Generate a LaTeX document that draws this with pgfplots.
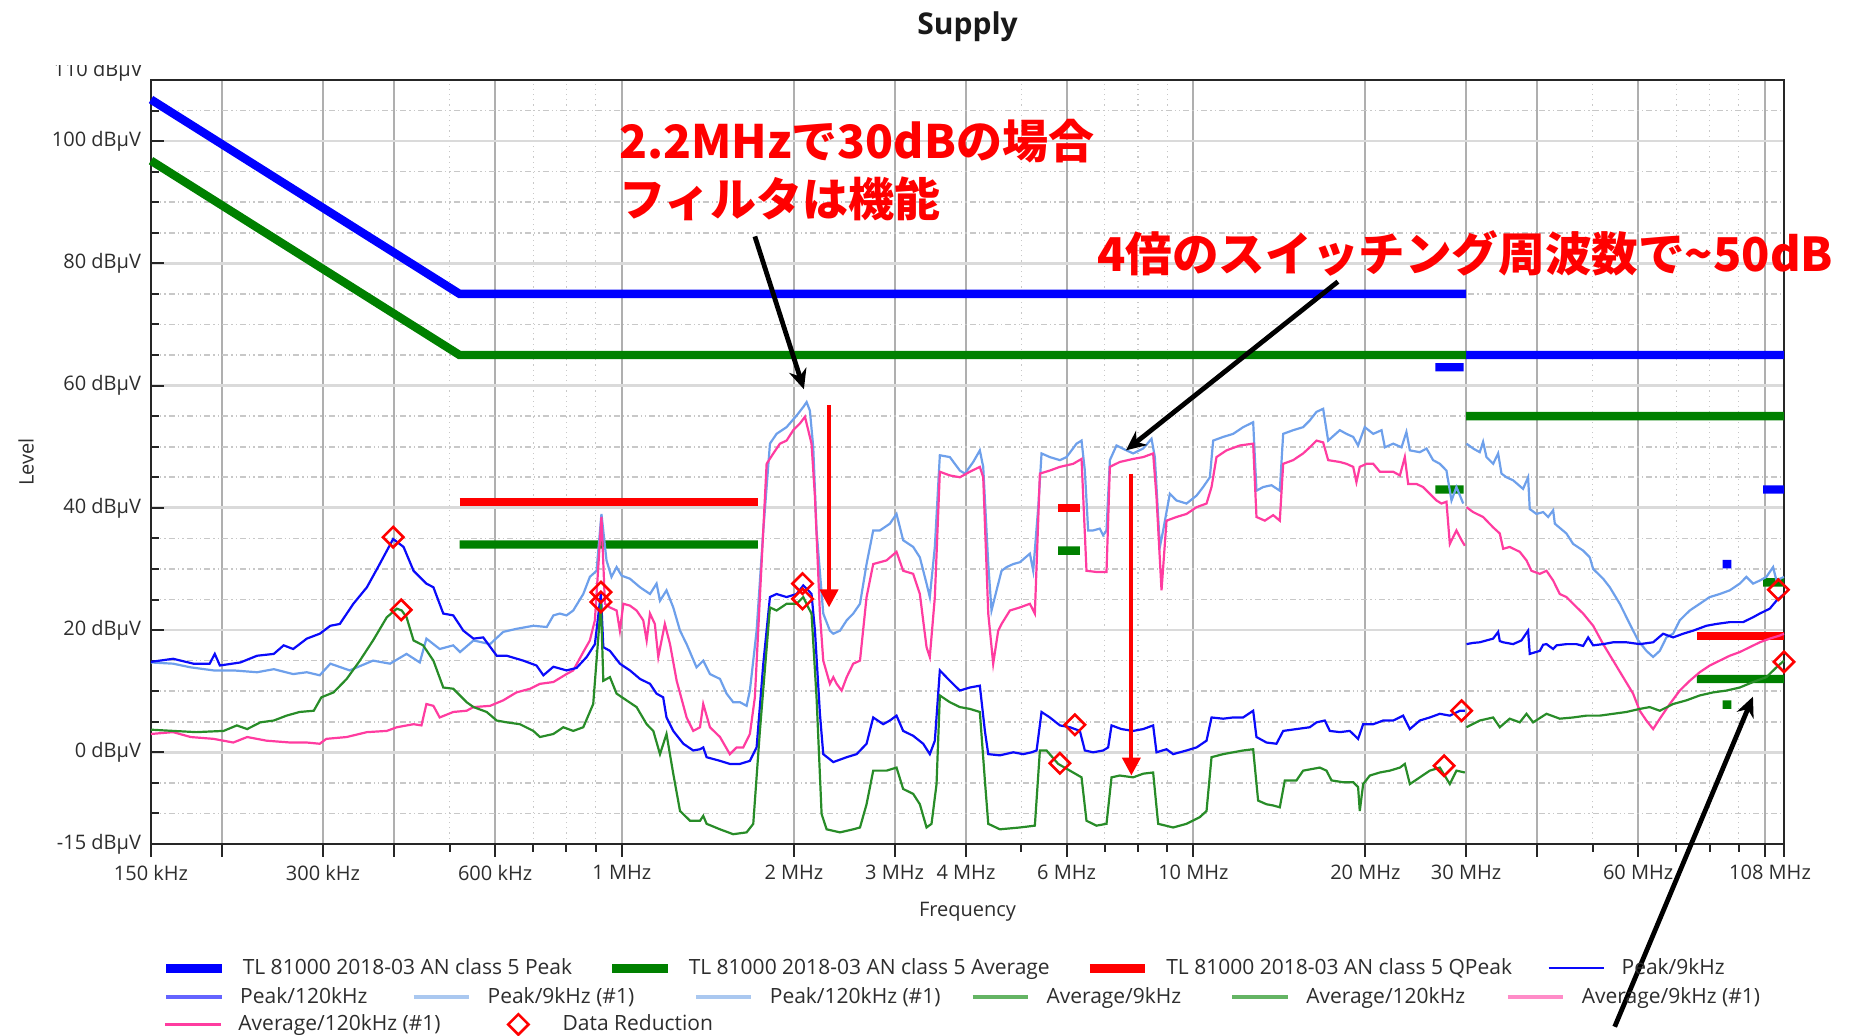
\documentclass[border=0pt]{standalone}
\usepackage{pgfplots}
\pgfplotsset{compat=1.18}
\usepackage{fontspec}
\setmainfont{Open Sans}
\newfontfamily\jpfont{Noto Sans CJK JP}
\usetikzlibrary{arrows.meta}

\definecolor{limblue}{RGB}{0,0,255}
\definecolor{limgreen}{RGB}{0,128,0}
\definecolor{limred}{RGB}{255,0,0}
\definecolor{pkblue}{RGB}{10,10,250}
\definecolor{pkone}{RGB}{110,160,235}
\definecolor{avggreen}{RGB}{40,140,40}
\definecolor{avgone}{RGB}{255,60,160}
\definecolor{legpk}{RGB}{100,100,255}
\definecolor{legpkone}{RGB}{170,200,240}
\definecolor{legavg}{RGB}{100,180,100}
\definecolor{legavgone}{RGB}{255,140,200}
\definecolor{gridv}{RGB}{175,175,175}
\definecolor{gridh}{RGB}{218,218,218}
\definecolor{gridm}{RGB}{200,200,200}
\definecolor{txt}{RGB}{45,45,45}

\pgfplotsset{
  legend image code/.code={\draw[mark repeat=2,mark phase=2,#1] plot coordinates {(0pt,0pt) (13.85pt,0pt) (27.7pt,0pt)};},
  diamondlegend/.style={legend image code/.code={\path[draw=none] (0pt,0pt) (27.7pt,0pt); \draw[##1] plot coordinates {(13.85pt,0pt)};}},
  legrow/.style={
    at={(75.5pt,96pt)}, anchor=south west, scale only axis,
    width=816.5pt, height=382pt, hide axis,
    xmin=0, xmax=1, ymin=0, ymax=1,
    legend columns=-1,
    legend cell align=left,
    legend style={draw=none, fill=none, inner sep=0pt, outer sep=0pt, anchor=west,
      font=\fontsize{10.5}{12.5}\selectfont, text=txt,
      /tikz/every odd column/.append style={column sep=6.3pt},
      /tikz/every even column/.append style={column sep=17pt}},
  },
}

\begin{document}
\begin{tikzpicture}
\useasboundingbox (0,0) rectangle (924.5pt,518pt);
\begin{axis}[
  at={(75.5pt,96pt)}, anchor=south west, scale only axis,
  width=816.5pt, height=382pt,
  xmode=log, xmin=0.15, xmax=108, ymin=-15, ymax=110,
  clip=false, unbounded coords=jump,
  axis line style={black!85, line width=1pt},
  tick pos=left,
  xtick={0.15,0.2,0.3,0.4,0.6,1,2,3,4,6,10,20,30,40,60,100,108},
  xticklabels={150 kHz,,300 kHz,,600 kHz,1 MHz,2 MHz,3 MHz,4 MHz,6 MHz,10 MHz,20 MHz,30 MHz,,60 MHz,,108 MHz\hspace*{14pt}},
  minor xtick={0.5,0.7,0.8,0.9,5,7,8,9,50,70,80,90},
  ytick={-15,0,20,40,60,80,100,110},
  yticklabels={-15 dBμV,0 dBμV,20 dBμV,40 dBμV,60 dBμV,80 dBμV,100 dBμV,},
  minor ytick={-10,-5,5,10,15,25,30,35,45,50,55,65,70,75,85,90,95,105},
  grid=both,
  major x grid style={gridv, line width=1pt},
  major y grid style={gridh, line width=1.4pt},
  minor x grid style={gridm, line width=0.6pt, dotted},
  minor y grid style={gridm, line width=0.8pt, dash pattern=on 3pt off 1.5pt on 0.7pt off 1.5pt on 0.7pt off 1.5pt},
  major tick length=6.5pt, minor tick length=4pt,
  tick style={black!85, line width=1pt},
  major x tick style={yshift=-6.5pt},
  minor x tick style={yshift=-4pt},
  tick label style={font=\fontsize{10}{12}\selectfont, text=txt},
  xticklabel style={yshift=-7pt},
  yticklabel style={xshift=-1.5pt},
  xlabel={Frequency},
  xlabel style={font=\fontsize{10}{12}\selectfont, text=txt, at={(axis description cs:0.5,-0.089)}, anchor=center},
  ylabel={Level},
  ylabel style={font=\fontsize{10}{12}\selectfont, text=txt, at={(axis description cs:-0.0765,0.5)}, anchor=center},
]
% TL 81000 class 5 limits
\addplot[limblue, line width=4.2pt, forget plot] coordinates {
(0.15,106.8) (0.52,75) (30,75) (30,nan) (30,65) (108,65) (108,nan)
(26.5,63) (29.7,63) (29.7,nan) (99.3,43) (108,43) (108,nan) (84.3,30.8) (87.4,30.8)};
\addplot[limgreen, line width=4.2pt, forget plot] coordinates {
(0.15,96.8) (0.52,65) (30,65) (30,nan) (30,55) (108,55) (108,nan)
(0.52,34) (1.73,34) (1.73,nan) (5.8,33) (6.33,33) (6.33,nan)
(26.5,43) (29.7,43) (29.7,nan) (76,12) (108,12) (108,nan)
(84.3,7.8) (87.4,7.8) (87.4,nan) (99.3,27.8) (108,27.8)};
\addplot[limred, line width=4.2pt, forget plot] coordinates {
(0.52,41) (1.73,41) (1.73,nan) (5.8,40) (6.33,40) (6.33,nan) (76,19) (108,19)};

% Peak/9kHz (#1)
\addplot[pkone, line width=1.1pt, forget plot] coordinates {
(0.150,14.7) (0.164,14.5) (0.176,13.9) (0.193,13.4) (0.209,13.4) (0.230,13.1) (0.246,13.6) (0.266,12.8) (0.281,13.1) (0.296,12.6) (0.309,14.5) (0.334,13.4) (0.367,15.0) (0.393,14.5) (0.420,16.1) (0.443,14.7) (0.455,18.6) (0.480,16.9) (0.507,17.5) (0.521,16.4) (0.550,18.3) (0.588,17.7) (0.620,19.7) (0.654,20.2) (0.700,20.7) (0.739,20.5) (0.759,22.4) (0.779,22.7) (0.800,22.4) (0.822,23.2) (0.856,25.9) (0.879,28.7) (0.903,29.7) (0.921,39.0) (0.940,31.4) (0.959,28.7) (0.979,30.3) (0.999,28.9) (1.033,28.4) (1.076,27.0) (1.120,25.9) (1.150,27.6) (1.166,24.8) (1.197,26.5) (1.230,23.7) (1.264,19.9) (1.298,17.7) (1.351,13.9) (1.388,15.0) (1.426,12.8) (1.485,12.0) (1.525,9.6) (1.566,8.2) (1.609,8.2) (1.653,7.6) (1.675,10.1) (1.721,19.9) (1.768,36.3) (1.816,50.5) (1.865,52.1) (1.942,53.2) (2.022,55.1) (2.077,56.5) (2.105,57.3) (2.133,55.9) (2.162,49.9) (2.191,36.3) (2.251,22.7) (2.312,19.9) (2.344,19.4) (2.408,19.9) (2.474,21.6) (2.540,22.7) (2.610,24.3) (2.680,30.8) (2.753,36.3) (2.828,36.3) (2.944,37.4) (3.024,39.0) (3.106,34.7) (3.234,33.6) (3.322,31.9) (3.413,27.6) (3.458,25.4) (3.529,33.6) (3.601,48.6) (3.749,48.3) (3.903,46.1) (3.983,45.6) (4.119,47.5) (4.230,49.4) (4.288,46.7) (4.376,30.8) (4.434,23.2) (4.525,26.5) (4.617,29.7) (4.711,30.3) (4.839,30.8) (4.971,31.1) (5.175,32.5) (5.245,29.7) (5.352,40.1) (5.424,48.9) (5.609,48.3) (5.841,47.8) (5.999,48.3) (6.246,50.5) (6.373,51.0) (6.458,46.1) (6.545,36.3) (6.678,36.3) (6.860,36.6) (6.953,35.5) (7.047,36.3) (7.143,47.8) (7.336,50.2) (7.638,49.4) (7.846,48.9) (8.169,49.7) (8.448,51.3) (8.562,48.3) (8.736,33.6) (8.853,36.3) (9.095,42.3) (9.343,41.2) (9.728,40.7) (10.128,42.0) (10.401,43.4) (10.686,45.0) (10.830,51.0) (11.274,51.6) (11.737,52.1) (12.220,53.2) (12.723,54.0) (12.894,42.8) (13.246,43.4) (13.700,43.7) (14.165,42.8) (14.358,52.1) (14.948,52.7) (15.563,53.2) (15.984,54.3) (16.420,55.7) (16.869,56.2) (17.211,51.0) (18.04,52.7) (18.53,52.1) (19.04,51.6) (19.42,50.2) (19.95,53.2) (20.64,52.1) (21.34,52.7) (21.63,49.9) (22.37,50.5) (23.13,49.9) (23.59,52.4) (23.92,49.4) (24.90,49.1) (25.58,49.7) (26.27,47.8) (26.99,47.2) (27.72,46.1) (28.29,41.2) (28.86,43.4) (29.66,40.7)};
% Peak/120kHz (#1)
\addplot[pkone, line width=1.1pt, forget plot] coordinates {
(30.05,50.5) (30.87,49.7) (31.70,49.1) (32.13,50.8) (32.57,48.3) (33.46,47.2) (34.14,48.9) (34.60,45.6) (35.30,45.0) (36.26,44.5) (37.75,43.1) (38.52,45.0) (38.78,39.8) (39.84,39.0) (40.93,39.3) (41.76,38.5) (42.61,39.6) (42.90,37.4) (44.95,35.8) (46.17,34.1) (48.08,33.0) (49.38,31.9) (50.06,30.0) (52.12,28.4) (53.53,27.0) (55.73,24.3) (58.02,21.0) (60.00,18.3) (62.04,16.6) (63.74,15.6) (65.48,16.6) (67.25,18.8) (69.09,19.4) (70.96,21.6) (73.88,23.2) (76.91,24.3) (80.07,25.4) (83.37,25.9) (86.80,26.5) (90.37,27.6) (92.8,28.7) (95.35,27.6) (97.96,28.1) (100.6,28.7) (103.35,30.3) (104.76,28.1) (108,28.7)};

% Average/9kHz (#1)
\addplot[avgone, line width=1.1pt, forget plot] coordinates {
(0.150,3.0) (0.164,3.3) (0.176,2.5) (0.193,2.2) (0.209,1.6) (0.221,2.5) (0.239,1.9) (0.263,1.6) (0.281,1.6) (0.296,1.4) (0.304,2.2) (0.330,2.5) (0.358,3.3) (0.388,3.5) (0.404,4.1) (0.432,4.6) (0.446,4.4) (0.455,7.9) (0.468,7.6) (0.480,5.7) (0.507,6.6) (0.535,6.8) (0.550,7.4) (0.588,7.6) (0.620,8.5) (0.654,9.8) (0.691,10.4) (0.719,11.2) (0.759,11.5) (0.800,12.8) (0.822,13.4) (0.856,16.4) (0.879,18.3) (0.897,21.6) (0.921,38.5) (0.934,24.3) (0.953,23.7) (0.979,23.2) (0.992,19.9) (1.006,24.3) (1.033,24.0) (1.061,23.2) (1.090,21.6) (1.105,18.3) (1.120,22.7) (1.142,21.0) (1.158,15.6) (1.189,21.0) (1.214,17.7) (1.247,11.7) (1.298,5.7) (1.333,3.5) (1.370,4.1) (1.388,7.9) (1.426,4.1) (1.485,2.5) (1.545,-0.3) (1.588,0.8) (1.631,0.8) (1.675,3.0) (1.709,9.0) (1.744,25.4) (1.792,47.2) (1.841,48.9) (1.891,50.5) (1.942,51.0) (1.995,52.7) (2.049,53.8) (2.091,54.9) (2.119,52.7) (2.147,50.5) (2.177,41.8) (2.221,22.7) (2.251,15.0) (2.312,11.2) (2.344,12.3) (2.376,11.2) (2.424,10.1) (2.474,12.3) (2.540,14.5) (2.610,15.0) (2.680,25.4) (2.753,30.8) (2.905,31.4) (3.024,32.8) (3.106,29.7) (3.234,29.2) (3.322,25.9) (3.413,17.2) (3.458,15.6) (3.529,25.4) (3.601,45.9) (3.749,45.3) (3.903,45.0) (4.063,45.9) (4.230,46.7) (4.288,45.0) (4.376,22.7) (4.464,14.5) (4.555,19.9) (4.617,21.0) (4.775,23.2) (4.971,23.7) (5.175,24.3) (5.280,22.7) (5.388,45.6) (5.609,46.1) (5.841,46.7) (6.162,47.2) (6.373,48.0) (6.501,29.7) (6.768,29.5) (7.047,29.5) (7.143,46.7) (7.435,47.5) (7.846,48.0) (8.169,48.3) (8.503,48.9) (8.619,41.8) (8.795,26.5) (8.974,37.9) (9.343,38.5) (9.728,39.0) (10.128,40.1) (10.544,40.7) (10.758,43.4) (10.976,48.3) (11.426,49.4) (12.056,50.2) (12.723,50.5) (12.894,38.5) (13.335,37.9) (13.791,38.8) (14.165,37.9) (14.358,47.2) (14.948,47.8) (15.563,48.9) (15.984,49.9) (16.420,51.0) (16.869,50.7) (17.211,47.8) (18.04,47.5) (18.53,47.2) (19.04,46.7) (19.29,44.2) (19.55,46.7) (20.09,47.2) (20.64,47.2) (21.20,45.9) (21.78,45.9) (22.37,45.9) (22.98,45.3) (23.44,48.3) (23.76,43.9) (24.57,43.9) (25.23,43.4) (25.92,42.3) (26.63,41.2) (27.17,40.7) (27.72,41.0) (28.10,34.1) (28.86,36.3) (29.46,34.7) (29.85,33.8)};
% Average/120kHz (#1)
\addplot[avgone, line width=1.1pt, forget plot] coordinates {
(30.05,40.1) (30.87,39.3) (32.13,38.5) (33.46,36.8) (34.37,35.8) (34.84,33.3) (35.77,33.6) (37.25,32.8) (38.27,31.4) (39.04,29.7) (40.38,29.2) (41.48,29.7) (42.61,28.1) (43.76,25.9) (44.95,25.4) (46.17,24.3) (48.08,22.7) (50.06,20.7) (52.12,17.7) (54.26,15.0) (56.48,12.3) (58.80,9.6) (60.40,6.8) (62.04,5.2) (63.74,3.8) (65.48,5.5) (68.17,7.9) (70.96,10.1) (73.88,11.7) (76.91,13.1) (80.07,14.2) (83.37,15.0) (86.80,15.8) (90.37,16.4) (94.08,17.2) (97.96,18.0) (101.97,18.6) (106.17,19.1) (108.0,19.4)};

% Peak/9kHz
\addplot[pkblue, line width=1.1pt, forget plot] coordinates {
(0.150,14.8) (0.164,15.3) (0.178,14.5) (0.190,14.5) (0.194,16.1) (0.198,14.2) (0.215,14.7) (0.230,15.8) (0.246,16.1) (0.256,17.5) (0.266,16.9) (0.281,18.6) (0.296,19.4) (0.309,20.7) (0.321,21.0) (0.339,24.3) (0.358,27.0) (0.377,30.8) (0.398,34.9) (0.415,33.6) (0.432,29.7) (0.455,27.6) (0.468,27.0) (0.487,22.7) (0.507,22.4) (0.528,19.9) (0.550,18.6) (0.572,18.8) (0.604,15.8) (0.629,15.8) (0.672,15.0) (0.709,14.2) (0.729,12.6) (0.759,14.0) (0.800,13.4) (0.833,13.8) (0.868,15.6) (0.897,17.7) (0.919,26.0) (0.928,17.2) (0.953,16.6) (0.992,14.5) (1.033,13.4) (1.076,12.0) (1.120,11.2) (1.150,9.6) (1.181,9.0) (1.197,5.7) (1.230,3.5) (1.281,1.4) (1.333,0.3) (1.370,0.5) (1.388,0.8) (1.407,-0.8) (1.485,-1.4) (1.545,-1.9) (1.609,-1.9) (1.675,-1.4) (1.721,0.8) (1.768,14.5) (1.816,25.4) (1.865,25.9) (1.942,25.4) (2.022,25.9) (2.077,27.3) (2.119,26.5) (2.147,25.9) (2.177,19.9) (2.221,6.3) (2.251,-0.3) (2.344,-1.6) (2.474,-0.8) (2.575,-0.3) (2.680,1.4) (2.753,5.7) (2.866,4.6) (2.944,5.2) (3.024,6.0) (3.106,3.5) (3.234,2.7) (3.367,1.4) (3.458,-0.3) (3.529,1.9) (3.601,13.4) (3.749,11.7) (3.903,10.1) (4.063,10.6) (4.230,10.9) (4.317,3.5) (4.376,-0.3) (4.586,-0.5) (4.839,0.0) (5.038,-0.3) (5.210,0.0) (5.317,0.3) (5.424,6.6) (5.609,5.7) (5.841,4.4) (6.081,4.1) (6.330,3.5) (6.458,0.3) (6.678,0.0) (6.953,0.3) (7.094,0.8) (7.191,4.4) (7.486,3.8) (7.846,3.5) (8.169,3.8) (8.503,4.4) (8.619,0.0) (8.974,0.5) (9.217,-0.3) (9.728,0.3) (10.128,0.8) (10.544,1.9) (10.758,5.7) (11.274,5.5) (11.737,5.7) (12.220,5.7) (12.723,6.8) (12.894,2.5) (13.425,1.6) (13.977,1.4) (14.358,3.5) (15.149,3.8) (15.984,4.1) (16.420,4.9) (16.983,5.2) (17.327,3.5) (18.04,3.3) (18.78,3.5) (19.42,2.2) (19.82,4.6) (20.64,4.6) (21.48,5.2) (22.37,5.2) (23.28,6.0) (23.92,3.8) (24.90,5.2) (25.92,5.7) (26.99,6.3) (28.10,6.0) (29.26,6.8) (29.85,6.8)};
% Peak/120kHz
\addplot[pkblue, line width=1.1pt, forget plot] coordinates {
(30.05,17.7) (30.87,17.9) (31.70,18.0) (32.57,18.3) (33.46,18.6) (34.14,19.7) (34.37,18.2) (34.84,18.0) (36.26,17.7) (37.50,18.3) (38.52,19.9) (38.78,16.1) (40.38,16.6) (40.93,17.6) (41.48,17.7) (42.61,16.9) (43.19,17.5) (44.95,17.7) (46.80,17.7) (48.08,17.4) (49.06,18.8) (50.06,17.5) (52.12,17.7) (54.26,18.0) (57.25,18.0) (60.40,17.7) (63.74,18.0) (66.36,19.4) (69.09,18.8) (71.93,19.4) (74.88,19.9) (79.00,20.7) (82.26,21.0) (86.80,21.3) (91.60,21.3) (95.35,22.1) (97.96,22.7) (101.97,23.5) (104.76,24.8) (108.0,25.9)};

% Average/9kHz
\addplot[avggreen, line width=1.1pt, forget plot] coordinates {
(0.150,3.7) (0.164,3.5) (0.180,3.3) (0.201,3.5) (0.212,4.4) (0.221,3.8) (0.233,4.9) (0.246,5.2) (0.259,6.0) (0.273,6.6) (0.289,6.8) (0.298,9.0) (0.313,9.8) (0.330,12.0) (0.348,15.0) (0.367,18.3) (0.388,22.1) (0.404,23.5) (0.412,23.2) (0.420,22.1) (0.432,18.3) (0.449,17.5) (0.468,15.0) (0.487,10.6) (0.507,10.4) (0.535,8.2) (0.550,7.4) (0.580,6.6) (0.604,5.2) (0.629,4.9) (0.663,4.6) (0.700,3.5) (0.719,2.5) (0.759,3.0) (0.790,4.1) (0.822,3.5) (0.856,4.1) (0.891,7.9) (0.919,24.4) (0.928,11.7) (0.953,12.3) (0.979,9.6) (1.019,8.5) (1.061,7.4) (1.105,4.6) (1.135,3.5) (1.166,-0.3) (1.197,3.0) (1.230,-3.5) (1.264,-9.6) (1.316,-11.2) (1.370,-11.2) (1.388,-10.4) (1.407,-11.7) (1.485,-12.6) (1.566,-13.4) (1.653,-13.1) (1.698,-11.7) (1.744,3.5) (1.816,23.7) (1.865,23.2) (1.942,24.3) (2.022,24.3) (2.077,25.4) (2.119,23.7) (2.147,22.7) (2.191,9.0) (2.236,-10.1) (2.282,-12.6) (2.408,-13.1) (2.540,-12.6) (2.610,-12.3) (2.680,-8.5) (2.753,-3.0) (2.905,-3.0) (3.024,-2.5) (3.106,-6.0) (3.234,-6.8) (3.322,-8.5) (3.413,-12.3) (3.482,-11.7) (3.553,-5.2) (3.601,9.3) (3.749,8.2) (3.903,7.4) (4.063,7.1) (4.230,6.6) (4.317,-4.6) (4.376,-11.7) (4.586,-12.6) (4.971,-12.3) (5.280,-12.0) (5.388,0.3) (5.534,0.3) (5.801,-1.9) (6.081,-3.0) (6.373,-4.1) (6.501,-11.2) (6.768,-12.0) (7.047,-11.7) (7.191,-4.1) (7.435,-3.8) (7.846,-4.1) (8.169,-3.5) (8.503,-3.3) (8.677,-11.7) (9.217,-12.3) (9.728,-11.7) (10.264,-10.6) (10.544,-9.6) (10.758,-0.8) (11.274,-0.3) (11.737,0.0) (12.220,0.3) (12.723,0.5) (12.980,-7.9) (13.425,-8.5) (13.791,-8.7) (14.165,-9.0) (14.454,-4.6) (15.149,-4.6) (15.563,-3.0) (16.641,-2.5) (17.097,-3.0) (17.447,-4.6) (18.285,-4.9) (19.04,-4.9) (19.42,-5.7) (19.55,-9.6) (19.82,-5.2) (20.36,-3.8) (21.20,-3.3) (22.07,-3.0) (22.98,-2.5) (23.44,-1.9) (23.92,-5.2) (24.90,-4.1) (25.92,-3.0) (26.99,-2.5) (28.10,-5.2) (28.86,-3.0) (29.85,-3.3)};
% Average/120kHz
\addplot[avggreen, line width=1.1pt, forget plot] coordinates {
(30.05,4.1) (31.70,5.2) (33.46,5.7) (34.37,4.1) (35.77,5.5) (37.25,4.9) (38.27,6.3) (39.31,4.9) (41.48,6.3) (43.76,5.5) (46.17,5.7) (48.73,6.0) (51.42,6.0) (54.26,6.3) (57.25,6.6) (60.40,7.1) (62.88,7.4) (65.48,6.8) (69.09,7.9) (72.89,8.5) (76.91,9.3) (81.15,9.8) (85.65,10.1) (90.37,10.6) (95.35,11.5) (100.6,12.3) (104.76,13.9) (108,15.0)};

% Data reduction
\addplot[only marks, mark=square, mark size=3.6pt, mark options={rotate=45, draw=red, line width=1.3pt, fill=none}, forget plot] coordinates {
(0.398,35.2) (0.411,23.3) (0.919,26.2) (0.919,24.6) (2.071,27.6) (2.071,25.1) (6.204,4.5) (5.841,-1.8) (29.46,6.8) (27.46,-2.2) (105.6,26.6) (108,14.8)};

% title
\node[anchor=base, inner sep=0pt, text=black!90, font=\fontsize{15}{18}\selectfont\bfseries] at (axis description cs:0.5,1.0589) {Supply};

% annotations
\node[anchor=west, inner sep=0pt, text=red, font=\fontsize{23}{28}\jpfont\bfseries] at (axis cs:0.988,100.0) {2.2MHzで30dBの場合};
\node[anchor=west, inner sep=0pt, text=red, font=\fontsize{23}{28}\jpfont\bfseries] at (axis cs:0.988,90.6) {フィルタは機能};
\node[anchor=west, inner sep=0pt, text=red, font=\fontsize{23.3}{28}\jpfont\bfseries] at (axis cs:6.78,81.6) {4倍のスイッチング周波数で\textasciitilde50dB};
\draw[black, line width=2.4pt, -{Stealth[length=10pt,width=9pt]}] (axis cs:1.709,84.4) -- (axis cs:2.082,59.4);
\draw[black, line width=2.4pt, -{Stealth[length=10pt,width=9pt]}] (axis cs:17.9,77.0) -- (axis cs:7.62,49.4);
\draw[black, line width=2.4pt, -{Stealth[length=10pt,width=9pt]}] (axis cs:54.6,-44.9) -- (axis cs:95.3,9.1);
\draw[red, line width=2pt, -{Triangle[length=9pt,width=9pt]}] (axis cs:2.304,56.8) -- (axis cs:2.304,23.7);
\draw[red, line width=2pt, -{Triangle[length=9pt,width=9pt]}] (axis cs:7.79,45.6) -- (axis cs:7.79,-3.8);
\end{axis}

% top tick label, cut off by the header band
\begin{scope}
\clip (0pt,0pt) rectangle (74pt,485pt);
\node[anchor=base east, inner sep=0pt, text=txt, font=\fontsize{10}{12}\selectfont] at (71.5pt,479.5pt) {110 dBμV};
\end{scope}

% legend, first row
\begin{axis}[legrow, legend style={at={(0.0066,-0.1626)}}]
\addlegendimage{limblue, line width=4.5pt}
\addlegendentry{TL 81000 2018-03 AN class 5 Peak\hspace*{-1.2pt}}
\addlegendimage{limgreen, line width=4.5pt}
\addlegendentry{TL 81000 2018-03 AN class 5 Average\hspace*{-1.2pt}}
\addlegendimage{limred, line width=4.5pt}
\addlegendentry{TL 81000 2018-03 AN class 5 QPeak\hspace*{-1.2pt}}
\addlegendimage{pkblue, line width=1pt}
\addlegendentry{Peak/9kHz}
\end{axis}
% legend, second row
\begin{axis}[legrow, legend style={at={(0.0081,-0.2008)}}]
\addlegendimage{legpk, line width=2pt}
\addlegendentry{Peak/120kHz\hspace*{3.1pt}}
\addlegendimage{legpkone, line width=2pt}
\addlegendentry{Peak/9kHz (\#1)\hspace*{10.8pt}}
\addlegendimage{legpkone, line width=2pt}
\addlegendentry{Peak/120kHz (\#1)\hspace*{-4pt}}
\addlegendimage{legavg, line width=2pt}
\addlegendentry{Average/9kHz\hspace*{5.5pt}}
\addlegendimage{legavg, line width=2pt}
\addlegendentry{Average/120kHz\hspace*{1.4pt}}
\addlegendimage{legavgone, line width=2pt}
\addlegendentry{Average/9kHz (\#1)}
\end{axis}
% legend, third row
\begin{axis}[legrow, legend style={at={(0.0081,-0.2362)}}]
\addlegendimage{avgone, line width=1.1pt}
\addlegendentry{Average/120kHz (\#1)\hspace*{6pt}}
\addlegendimage{only marks, mark=square, mark size=3.6pt, mark options={rotate=45, draw=red, line width=1.3pt, fill=none}, diamondlegend}
\addlegendentry{Data Reduction}
\end{axis}
\end{tikzpicture}
\end{document}
